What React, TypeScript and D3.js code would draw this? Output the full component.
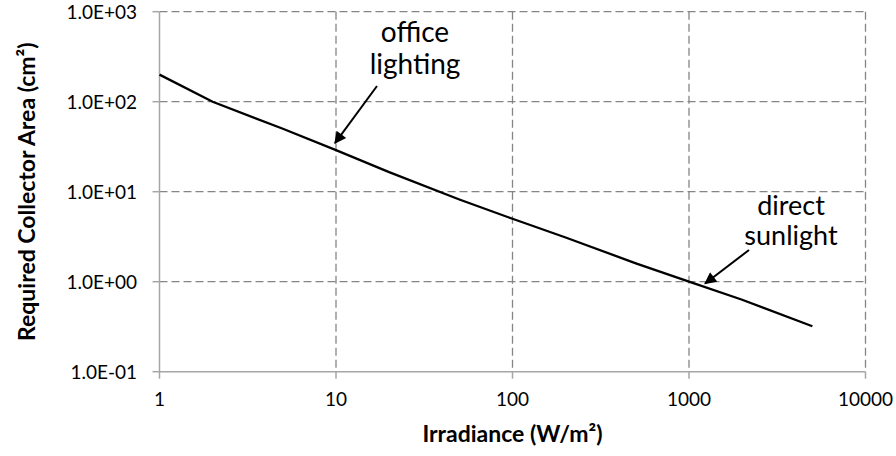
import React from "react";
import * as d3 from "d3";

const irradiance = [1, 2, 5, 10, 20, 50, 100, 200, 500, 1000, 2000, 5000];
const collectorArea = [200, 100, 50, 29, 16.5, 8.2, 5, 3.1, 1.6, 1.0, 0.63, 0.32];
const xTicks = [1, 10, 100, 1000, 10000];
const yTicks = [0.1, 1, 10, 100, 1000];
const xTitle = "Irradiance (W/m²)";
const yTitle = "Required Collector Area (cm²)";
const annotations = [
  { lines: ["office", "lighting"], target: [10, 29] },
  { lines: ["direct", "sunlight"], target: [1250, 0.93] },
];

const W = 896;
const H = 456;
const L = 159.5, R = 865.5, T = 11.7, B = 371.7;
const FONT = "Lato, 'Open Sans', sans-serif";

function fmtExp(v: number) {
  const e = Math.round(Math.log10(v));
  const sign = e < 0 ? "-" : "+";
  const a = Math.abs(e);
  return "1.0E" + sign + (a < 10 ? "0" + a : String(a));
}

export default function App() {
  const x = d3.scaleLog().domain([1, 10000]).range([L, R]);
  const y = d3.scaleLog().domain([0.1, 1000]).range([B, T]);
  const line = d3
    .line<number>()
    .x((_, i) => x(irradiance[i]))
    .y((d) => y(d));
  const grid = "#858585";
  const axis = "#A6A6A6";

  const annPos = [
    { tx: 415, ty: [42, 74], tail: [377, 86], tip: [x(annotations[0].target[0]) - 1, y(annotations[0].target[1]) - 7] },
    { tx: 791, ty: [215, 245], tail: [749, 250], tip: [x(annotations[1].target[0]) - 1, y(annotations[1].target[1]) - 1] },
  ];

  return (
    <svg
      width={W}
      height={H}
      style={{ position: "absolute", left: 0, top: 0, background: "#fff" }}
      fontFamily={FONT}
    >
      <defs>
        <marker id="ah" viewBox="0 0 10 10" refX="9" refY="5" markerWidth="7" markerHeight="6" orient="auto" markerUnits="strokeWidth">
          <path d="M0,0 L10,5 L0,10 z" fill="#000" />
        </marker>
      </defs>
      {/* horizontal gridlines */}
      {yTicks.filter((t) => t > 0.1).map((t) => (
        <line key={"gy" + t} x1={L} x2={R} y1={y(t)} y2={y(t)} stroke={grid} strokeWidth={1.3} strokeDasharray="8,4" />
      ))}
      {/* vertical gridlines */}
      {xTicks.filter((t) => t > 1).map((t) => (
        <line key={"gx" + t} x1={x(t)} x2={x(t)} y1={T} y2={B} stroke={grid} strokeWidth={1.3} strokeDasharray="8,4" />
      ))}
      {/* axes */}
      <line x1={L} x2={L} y1={T} y2={B} stroke={axis} strokeWidth={1.5} />
      <line x1={L} x2={R} y1={B} y2={B} stroke={axis} strokeWidth={1.5} />
      {yTicks.map((t) => (
        <line key={"ty" + t} x1={L - 7} x2={L} y1={y(t)} y2={y(t)} stroke={axis} strokeWidth={1.5} />
      ))}
      {xTicks.map((t) => (
        <line key={"tx" + t} x1={x(t)} x2={x(t)} y1={B} y2={B + 7} stroke={axis} strokeWidth={1.5} />
      ))}
      {/* tick labels */}
      {yTicks.map((t) => (
        <text key={"ly" + t} x={137} y={y(t)} dy="0.36em" textAnchor="end" fontSize={19} fill="#000">
          {fmtExp(t)}
        </text>
      ))}
      {xTicks.map((t) => (
        <text key={"lx" + t} x={x(t)} y={406} textAnchor="middle" fontSize={19} fill="#000">
          {String(t)}
        </text>
      ))}
      {/* data line */}
      <path d={line(collectorArea) || ""} fill="none" stroke="#000" strokeWidth={2.3} />
      {/* annotations */}
      {annotations.map((a, i) => (
        <g key={"an" + i}>
          {a.lines.map((ln, j) => (
            <text key={j} x={annPos[i].tx} y={annPos[i].ty[j]} textAnchor="middle" fontSize={i === 0 ? 28 : 27} fill="#000">
              {ln}
            </text>
          ))}
          <line
            x1={annPos[i].tail[0]}
            y1={annPos[i].tail[1]}
            x2={annPos[i].tip[0]}
            y2={annPos[i].tip[1]}
            stroke="#000"
            strokeWidth={2}
            markerEnd="url(#ah)"
          />
        </g>
      ))}
      {/* axis titles */}
      <text x={(L + R) / 2} y={442} textAnchor="middle" fontSize={23} fontWeight="bold" fill="#000">
        {xTitle}
      </text>
      <text
        transform={`translate(35,${(T + B) / 2}) rotate(-90)`}
        textAnchor="middle"
        fontSize={23}
        fontWeight="bold"
        fill="#000"
      >
        {yTitle}
      </text>
    </svg>
  );
}
